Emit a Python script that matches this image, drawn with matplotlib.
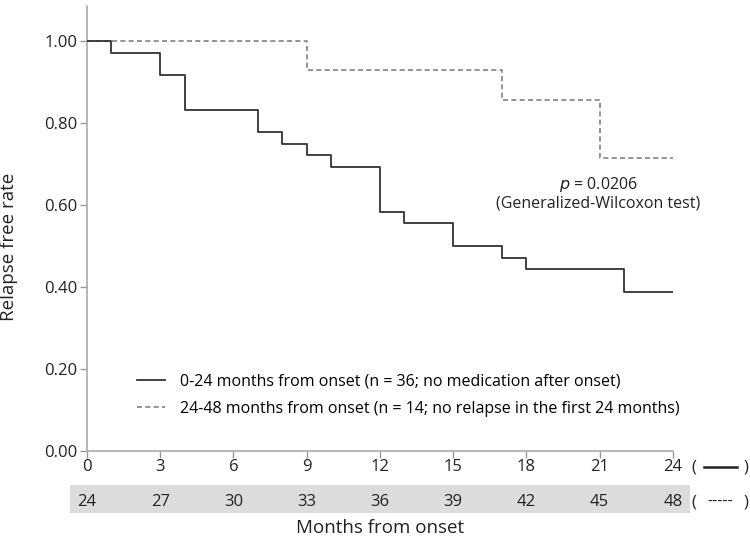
import matplotlib
matplotlib.use("Agg")
import matplotlib.pyplot as plt
import matplotlib.transforms as mtransforms
from matplotlib.patches import Rectangle

plt.rcParams['font.family'] = ['Open Sans', 'DejaVu Sans']

# Kaplan-Meier style step data (months, relapse free rate)
early_months = [0, 1, 3, 4, 7, 8, 9, 10, 12, 13, 15, 17, 18, 22, 24]
early_rate = [1.0, 0.972, 0.917, 0.833, 0.778, 0.750, 0.722, 0.694,
              0.583, 0.556, 0.500, 0.472, 0.444, 0.389, 0.389]
late_months = [0, 9, 17, 21, 24]
late_rate = [1.0, 0.929, 0.857, 0.714, 0.714]

ticks_early = [0, 3, 6, 9, 12, 15, 18, 21, 24]
ticks_late = [24, 27, 30, 33, 36, 39, 42, 45, 48]
y_ticks = [0.0, 0.2, 0.4, 0.6, 0.8, 1.0]

label_early = "0-24 months from onset (n = 36; no medication after onset)"
label_late = "24-48 months from onset (n = 14; no relapse in the first 24 months)"

txt = '#222222'
fig = plt.figure(figsize=(7.5, 5.38), dpi=100)
ax = fig.add_axes([0.116, 0.1617, 0.781, 0.8273])

ax.step(late_months, late_rate, where='post', color='#808080', lw=1.2,
        linestyle=(0, (3, 2)), label=label_late, zorder=2)
ax.step(early_months, early_rate, where='post', color='#333333', lw=1.3,
        label=label_early, zorder=3)

ax.set_xlim(0, 24)
ax.set_ylim(0, 1.086)
ax.set_xticks(ticks_early)
ax.set_xticklabels([str(t) for t in ticks_early])
ax.set_yticks(y_ticks)
ax.set_yticklabels([f"{v:.2f}" for v in y_ticks])
ax.tick_params(axis='both', colors='#999999', labelcolor=txt,
               labelsize=12, length=5, width=1)
ax.tick_params(axis='x', pad=1)
ax.tick_params(axis='y', pad=2)

for s in ['top', 'right']:
    ax.spines[s].set_visible(False)
for s in ['left', 'bottom']:
    ax.spines[s].set_color('#aaaaaa')
    ax.spines[s].set_linewidth(1.2)

ax.set_ylabel("Relapse free rate", fontsize=13.5, color=txt)
ax.yaxis.set_label_coords(-0.118, 0.458)
fig.text(380 / 750, 1 - 528 / 538, "Months from onset", ha='center', va='center',
         fontsize=13.5, color=txt)

# second x row (24-48) on grey band
trans = mtransforms.blended_transform_factory(ax.transData, ax.transAxes)
ax.add_patch(Rectangle((-0.7, -0.140), 25.41, 0.063, transform=trans,
                       facecolor='#dcdcdc', edgecolor='none', clip_on=False, zorder=0))
for x, t in zip(ticks_early, ticks_late):
    ax.text(x, -0.115, str(t), transform=trans, ha='center', va='center',
            fontsize=12, color=txt)

# row keys at right
for yy in (-0.038, -0.115):
    ax.text(24.88, yy, "(", transform=trans, ha='center', va='center', fontsize=12, color=txt)
    ax.text(27.0, yy, ")", transform=trans, ha='center', va='center', fontsize=12, color=txt)
ax.plot([25.29, 26.64], [-0.036, -0.036], transform=trans, color='#222222',
        lw=1.8, clip_on=False)
ax.text(25.96, -0.115, "-----", transform=trans, ha='center', va='center',
        fontsize=11.5, color=txt)

ax.text(20.95, 0.65, "$p$ = 0.0206", ha='center', va='center', fontsize=11.5, color=txt)
ax.text(20.95, 0.603, "(Generalized-Wilcoxon test)", ha='center', va='center',
        fontsize=11.5, color=txt)

handles, labels = ax.get_legend_handles_labels()
ax.legend(handles[::-1], labels[::-1], loc='lower left', bbox_to_anchor=(0.074, 0.063),
          frameon=False, fontsize=11.5, handlelength=1.75, handletextpad=0.95,
          labelspacing=0.7, borderaxespad=0)

fig.savefig("out.png", dpi=100)
